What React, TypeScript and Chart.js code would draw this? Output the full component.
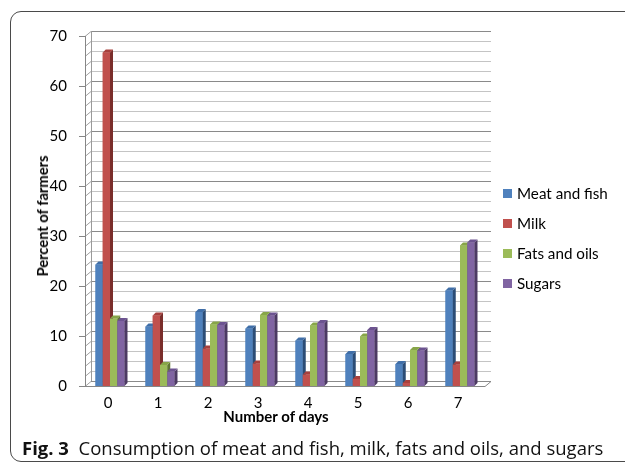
import React, { useEffect, useRef } from "react";
import { Chart, registerables } from "chart.js";

Chart.register(...registerables);

const categories = ["0", "1", "2", "3", "4", "5", "6", "7"];
const seriesNames = ["Meat and fish", "Milk", "Fats and oils", "Sugars"];
const meatAndFish = [24.3, 11.9, 14.8, 11.5, 9.1, 6.4, 4.4, 19.1];
const milk = [66.7, 14.1, 7.5, 4.5, 2.3, 1.4, 0.6, 4.3];
const fatsAndOils = [13.5, 4.2, 12.3, 14.2, 12.1, 9.9, 7.2, 28.1];
const sugars = [13.0, 2.9, 12.2, 14.1, 12.6, 11.2, 7.1, 28.7];
const seriesValues = [meatAndFish, milk, fatsAndOils, sugars];

const yMin = 0;
const yMax = 70;
const yMajorStep = 10;
const yMinorStep = 2;

const frontColors = ["#4F81BD", "#C0504D", "#9BBB59", "#8064A2"];
const sideColors = ["#2C4D77", "#7A2D2B", "#5F7633", "#4C3A63"];
const topColors = ["#3F6EA8", "#A8403D", "#87A548", "#6C5390"];

const DX = 6;
const DY = -5;
const BAR_DX = 3;
const BAR_DY = -3;

const wallPlugin = {
  id: "wall3d",
  beforeDatasetsDraw(chart: any) {
    const { ctx, chartArea, scales } = chart;
    const { left, right, top, bottom } = chartArea;
    const y = scales.y;
    ctx.save();
    ctx.lineWidth = 1;
    for (let v = yMin; v <= yMax; v += yMinorStep) {
      const py = Math.round(y.getPixelForValue(v)) + 0.5;
      const major = v % yMajorStep === 0;
      ctx.strokeStyle = major ? "#8a8a8a" : "#c4c4c4";
      ctx.beginPath();
      ctx.moveTo(left + DX, py + DY);
      ctx.lineTo(right + DX, py + DY);
      ctx.stroke();
      ctx.strokeStyle = "#a0a0a0";
      ctx.beginPath();
      ctx.moveTo(left, py);
      ctx.lineTo(left + DX, py + DY);
      ctx.stroke();
      if (major) {
        ctx.strokeStyle = "#868686";
        ctx.beginPath();
        ctx.moveTo(left - 6, py);
        ctx.lineTo(left, py);
        ctx.stroke();
      }
    }
    ctx.strokeStyle = "#9a9a9a";
    ctx.beginPath();
    ctx.moveTo(left + DX + 0.5, Math.round(top) + DY);
    ctx.lineTo(left + DX + 0.5, Math.round(bottom) + DY);
    ctx.stroke();
    ctx.strokeStyle = "#868686";
    ctx.beginPath();
    ctx.moveTo(left + 0.5, Math.round(top));
    ctx.lineTo(left + 0.5, Math.round(bottom) + 0.5);
    ctx.stroke();
    const fb = Math.round(bottom) + 0.5;
    ctx.beginPath();
    ctx.moveTo(left, fb);
    ctx.lineTo(right, fb);
    ctx.lineTo(right + DX, fb + DY);
    ctx.stroke();
    ctx.restore();
  },
  afterDatasetsDraw(chart: any) {
    const { ctx } = chart;
    ctx.save();
    chart.data.datasets.forEach((_ds: any, i: number) => {
      const meta = chart.getDatasetMeta(i);
      meta.data.forEach((bar: any) => {
        const p = bar.getProps(["x", "y", "base", "width"], true);
        const L = p.x - p.width / 2;
        const R = p.x + p.width / 2;
        const T = p.y;
        const B = p.base;
        ctx.fillStyle = frontColors[i];
        ctx.fillRect(L, T, R - L, B - T);
        ctx.fillStyle = sideColors[i];
        ctx.beginPath();
        ctx.moveTo(R, T);
        ctx.lineTo(R + BAR_DX, T + BAR_DY);
        ctx.lineTo(R + BAR_DX, B + BAR_DY);
        ctx.lineTo(R, B);
        ctx.closePath();
        ctx.fill();
        ctx.fillStyle = topColors[i];
        ctx.beginPath();
        ctx.moveTo(L, T);
        ctx.lineTo(L + BAR_DX, T + BAR_DY);
        ctx.lineTo(R + BAR_DX, T + BAR_DY);
        ctx.lineTo(R, T);
        ctx.closePath();
        ctx.fill();
      });
    });
    ctx.restore();
  },
};

function BarChart() {
  const ref = useRef<HTMLCanvasElement | null>(null);
  useEffect(() => {
    if (!ref.current) return;
    const chart = new Chart(ref.current, {
      type: "bar",
      data: {
        labels: categories,
        datasets: seriesValues.map((vals, i) => ({
          label: seriesNames[i],
          data: vals,
          backgroundColor: frontColors[i],
          borderWidth: 0,
          barPercentage: 1,
          categoryPercentage: 0.58,
        })),
      },
      options: {
        responsive: false,
        animation: false,
        devicePixelRatio: 1,
        layout: { padding: { left: 0, top: 36, right: 140, bottom: 0 } },
        plugins: { legend: { display: false }, tooltip: { enabled: false } },
        scales: {
          x: {
            type: "category",
            grid: { display: false },
            border: { display: false },
            ticks: {
              color: "#000",
              font: { family: "Lato", size: 15 },
              padding: 0,
              labelOffset: -2,
            },
            afterFit: (s: any) => {
              s.height = 79;
            },
          },
          y: {
            min: yMin,
            max: yMax,
            grid: { display: false },
            border: { display: false },
            ticks: {
              stepSize: yMajorStep,
              color: "#000",
              font: { family: "Lato", size: 15 },
              padding: 10,
            },
            afterFit: (s: any) => {
              s.width = 85;
            },
          },
        },
      },
      plugins: [wallPlugin],
    });
    return () => chart.destroy();
  }, []);
  return (
    <canvas
      ref={ref}
      width={625}
      height={465}
      style={{ position: "absolute", left: 0, top: 0, width: 625, height: 465 }}
    />
  );
}

export default function App() {
  return (
    <div
      style={{
        position: "fixed",
        left: 0,
        top: 0,
        width: 625,
        height: 465,
        overflow: "hidden",
        background: "#fff",
        fontFamily: "Lato, sans-serif",
      }}
    >
      <div
        style={{
          position: "absolute",
          left: 10,
          top: 11,
          width: 660,
          height: 451,
          border: "1px solid #4a4a4a",
          borderRadius: 11,
          boxSizing: "border-box",
        }}
      />
      <BarChart />
      <div style={{ position: "absolute", left: 42, top: 216, width: 0, height: 0 }}>
        <div
          style={{
            position: "absolute",
            left: 0,
            top: 0,
            transform: "translate(-50%, -50%) rotate(-90deg)",
            whiteSpace: "nowrap",
            fontWeight: 700,
            fontSize: 14.7,
            color: "#000",
          }}
        >
          Percent of farmers
        </div>
      </div>
      <div
        style={{
          position: "absolute",
          left: 276,
          top: 416,
          transform: "translate(-50%, -50%)",
          whiteSpace: "nowrap",
          fontWeight: 700,
          fontSize: 15,
          color: "#000",
        }}
      >
        Number of days
      </div>
      <div style={{ position: "absolute", left: 503, top: 178 }}>
        {seriesNames.map((name, i) => (
          <div
            key={name}
            style={{ display: "flex", alignItems: "center", height: 30, whiteSpace: "nowrap" }}
          >
            <span
              style={{ display: "inline-block", width: 9, height: 9, background: frontColors[i] }}
            />
            <span style={{ marginLeft: 5, fontSize: 15.2, color: "#000" }}>{name}</span>
          </div>
        ))}
      </div>
      <div
        style={{
          position: "absolute",
          left: 22,
          top: 447,
          transform: "translateY(-50%)",
          whiteSpace: "nowrap",
          fontFamily: "'Open Sans', sans-serif",
          fontSize: 18.5,
          color: "#111",
        }}
      >
        <span style={{ fontWeight: 700 }}>Fig. 3</span>
        <span>{"\u00a0\u00a0Consumption of meat and fish, milk, fats and oils, and sugars"}</span>
      </div>
    </div>
  );
}
